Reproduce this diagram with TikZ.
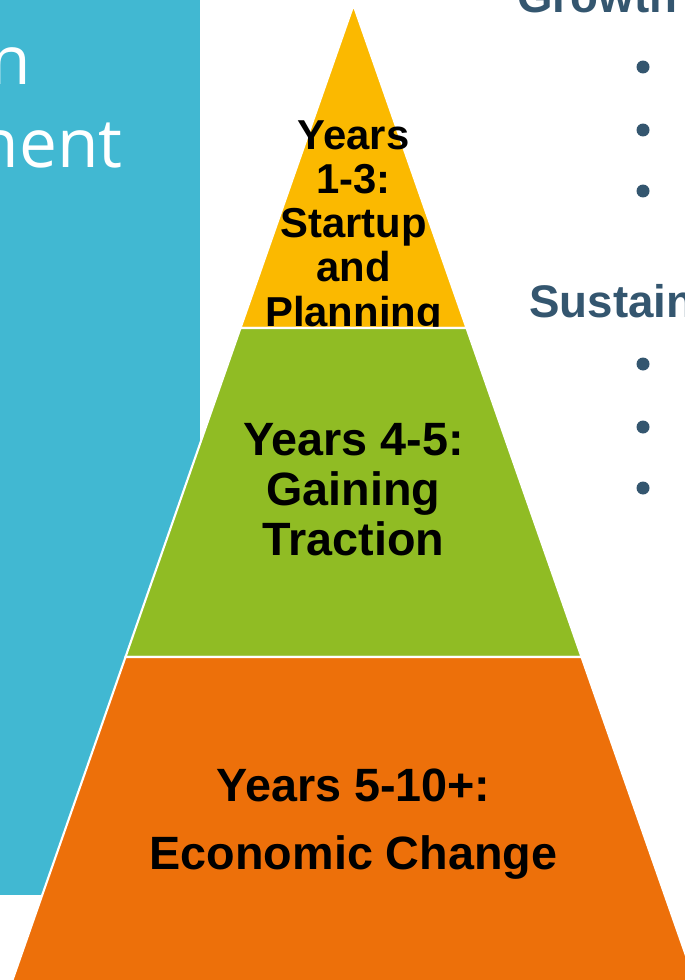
\documentclass[tikz,border=0pt]{standalone}
\usepackage{fontspec}
\setmainfont{Liberation Sans}
\newfontfamily\panelfont{Open Sans}
\usetikzlibrary{positioning}

\definecolor{panelblue}{RGB}{65,184,210}
\definecolor{tieryellow}{RGB}{251,185,0}
\definecolor{tiergreen}{RGB}{144,188,36}
\definecolor{tierorange}{RGB}{237,112,10}
\definecolor{slate}{RGB}{52,86,111}

\begin{document}
\begin{tikzpicture}[
    x=0.02cm, y=-0.02cm,
    tier/.style={draw=white, line width=1.2pt},
    tiertext/.style={inner sep=0pt, align=center, anchor=north, text=black},
    paneltext/.style={inner sep=0pt, anchor=base east, text=white, font=\panelfont\fontsize{38.5}{42}\selectfont},
    heading/.style={inner sep=0pt, anchor=base west, text=slate, font=\fontsize{26}{30}\bfseries},
    dot/.style={circle, fill=slate, inner sep=0pt, minimum size=0.26cm}
]
\useasboundingbox (0,0) rectangle (685,980);
\clip (0,0) rectangle (685,980);

% side panel
\fill[panelblue] (0,0) rectangle (200,895);
\node[paneltext] (word1) at (31,85) {n};
\node[paneltext] (word2) at (123,167) {nent};

% pyramid, top to bottom
\coordinate (apex) at (353.5,5);
\filldraw[tier, fill=tieryellow] (apex) -- (466.5,328) -- (240.5,328) -- cycle;
\node[tiertext, font=\fontsize{23.8}{25.2}\bfseries] (stage1) at (353.5,120)
    {Years\\1-3:\\Startup\\and\\Planning};
\filldraw[tier, fill=tiergreen] (240.5,328) -- (466.5,328) -- (581.5,657) -- (125.5,657) -- cycle;
\node[tiertext, font=\fontsize{26.6}{28.3}\bfseries] (stage2) at (353.5,423.4)
    {Years 4-5:\\Gaining\\Traction};
\filldraw[tier, fill=tierorange] (125.5,657) -- (581.5,657) -- (698,990) -- (9,990) -- cycle;
\node[tiertext, font=\fontsize{26.6}{38.5}\bfseries] (stage3) at (353.5,768.4)
    {Years 5-10+:\\Economic Change};

% goals on the right
\node[heading] (growth) at (517,13) {Growth};
\node[heading] (sustain) at (529,317) {Sustain};
\foreach \y in {67,130,191,364,427,488}
    \node[dot] at (643,\y) {};
\end{tikzpicture}
\end{document}
